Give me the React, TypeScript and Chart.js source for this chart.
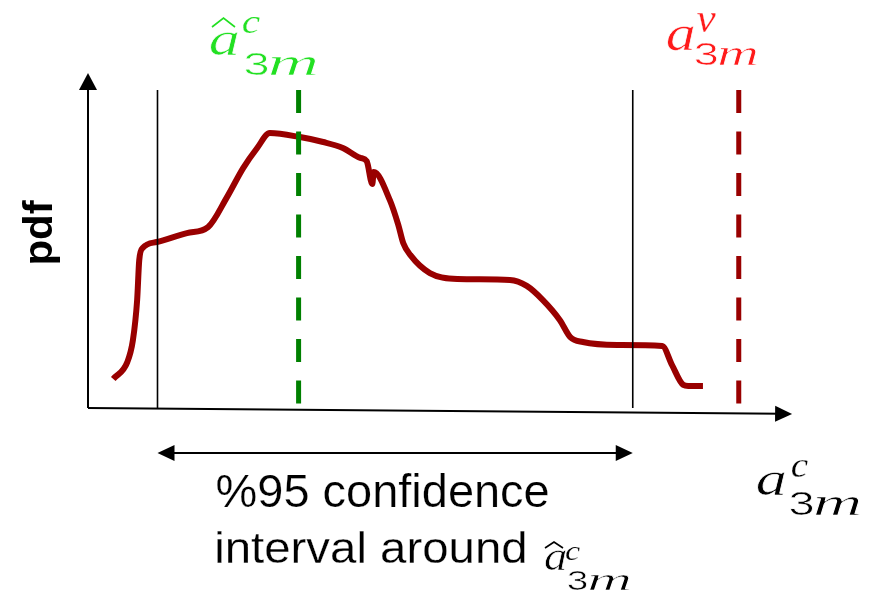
import React, { useEffect, useRef } from "react";
import { Chart, registerables } from "chart.js";

Chart.register(...registerables);

// ---- data (x in arbitrary parameter units, y = density, 0..1) ----
const pdfX = [0.36, 0.56, 0.64, 0.70, 0.73, 0.78, 0.98, 1.41, 1.71, 1.98, 2.21, 2.41, 2.59, 3.02, 3.35, 3.63, 3.88, 3.97, 4.05, 4.07, 4.30, 4.42, 4.49, 4.59, 4.87, 5.26, 6.01, 6.25, 6.48, 6.72, 6.87, 7.05, 7.54, 8.18, 8.32, 8.48, 8.55, 8.76];
const pdfY = [0.088, 0.139, 0.206, 0.327, 0.448, 0.485, 0.503, 0.530, 0.548, 0.639, 0.727, 0.788, 0.833, 0.821, 0.806, 0.788, 0.758, 0.748, 0.679, 0.715, 0.630, 0.555, 0.500, 0.464, 0.409, 0.391, 0.388, 0.370, 0.327, 0.267, 0.215, 0.200, 0.191, 0.188, 0.130, 0.070, 0.067, 0.067];

const ciLow = 0.99;
const ciHigh = 7.76;
const estimateX = 3.0;
const trueX = 9.27;
const markerTop = 0.964;
const markerBottom = 0.01;
const ciArrowY = -0.136;

const xMin = 0;
const xMax = 10;
const yMin = 0;
const yMax = 1;
const xAxisEnd = 10.03;
const xAxisDrop = -0.018;
const yAxisEnd = 1.015;

const captionLines = ["%95 confidence", "interval around"];
const yLabel = "pdf";

const CURVE = "#990000";
const GREEN_DASH = "#008000";
const GREEN_TEXT = "#22e022";
const RED_TEXT = "#ff1a1a";

type Box = [number, number, number, number];

function fitInk(ctx: CanvasRenderingContext2D, text: string, font: string, box: Box, color: string, thin = 0) {
  const [x0, y0, x1, y1] = box;
  ctx.save();
  ctx.font = font;
  const m = ctx.measureText(text);
  const inkW = m.actualBoundingBoxLeft + m.actualBoundingBoxRight;
  const inkH = m.actualBoundingBoxAscent + m.actualBoundingBoxDescent;
  const sx = (x1 - x0) / inkW;
  const sy = (y1 - y0) / inkH;
  ctx.translate(x0 + m.actualBoundingBoxLeft * sx, y0 + m.actualBoundingBoxAscent * sy);
  ctx.scale(sx, sy);
  ctx.fillStyle = color;
  ctx.textBaseline = "alphabetic";
  ctx.textAlign = "left";
  ctx.fillText(text, 0, 0);
  if (thin > 0) {
    ctx.strokeStyle = "#fff";
    ctx.lineWidth = thin / sy;
    ctx.lineJoin = "round";
    ctx.strokeText(text, 0, 0);
  }
  ctx.restore();
}

const ITAL = "italic 100px 'Liberation Serif', 'DejaVu Serif', serif";
const SANS = "100px 'Liberation Sans', 'DejaVu Sans', sans-serif";
const NARROW = "100px 'Liberation Sans Narrow', 'Liberation Sans', 'DejaVu Sans Condensed', sans-serif";
const BOLD = "bold 100px 'Liberation Sans', 'DejaVu Sans', sans-serif";
const TH = 0.6;
const TH_SMALL = 0.25;

function drawHat(ctx: CanvasRenderingContext2D, x0: number, x1: number, yTop: number, yBot: number, color: string) {
  ctx.save();
  ctx.strokeStyle = color;
  ctx.lineWidth = 1.6;
  ctx.lineJoin = "miter";
  ctx.beginPath();
  ctx.moveTo(x0, yBot);
  ctx.lineTo((x0 + x1) / 2, yTop);
  ctx.lineTo(x1, yBot);
  ctx.stroke();
  ctx.restore();
}

function drawArrowHead(ctx: CanvasRenderingContext2D, tx: number, ty: number, fx: number, fy: number, len: number, half: number) {
  const ang = Math.atan2(ty - fy, tx - fx);
  ctx.save();
  ctx.translate(tx, ty);
  ctx.rotate(ang);
  ctx.beginPath();
  ctx.moveTo(0, 0);
  ctx.lineTo(-len, -half);
  ctx.lineTo(-len, half);
  ctx.closePath();
  ctx.fill();
  ctx.restore();
}

function mathSym(ctx: CanvasRenderingContext2D, color: string, sup: string, a: Box, s: Box, three: Box, mm: Box) {
  fitInk(ctx, "a", ITAL, a, color, TH);
  fitInk(ctx, sup, ITAL, s, color, TH_SMALL);
  fitInk(ctx, "3", SANS, three, color, TH);
  fitInk(ctx, "m", ITAL, mm, color, TH);
}

const decorPlugin = {
  id: "decor",
  afterDatasetsDraw(chart: any) {
    const ctx: CanvasRenderingContext2D = chart.ctx;
    const xs = chart.scales.x;
    const ys = chart.scales.y;
    const px = (v: number) => xs.getPixelForValue(v);
    const py = (v: number) => ys.getPixelForValue(v);

    ctx.save();
    ctx.fillStyle = "#000";
    ctx.strokeStyle = "#000";
    ctx.lineWidth = 2;

    // y axis
    const ox = px(0), oy = py(0);
    const yTipY = py(yAxisEnd);
    ctx.beginPath();
    ctx.moveTo(ox, oy);
    ctx.lineTo(ox, yTipY + 10);
    ctx.stroke();
    drawArrowHead(ctx, ox, yTipY, ox, oy, 17, 9);

    // x axis (slightly sloped)
    const xTipX = px(xAxisEnd), xTipY = py(xAxisDrop);
    ctx.beginPath();
    ctx.moveTo(ox, oy);
    ctx.lineTo(xTipX - 10, xTipY - (xTipY - oy) * 10 / (xTipX - ox));
    ctx.stroke();
    drawArrowHead(ctx, xTipX, xTipY, ox, oy, 17, 8);

    // CI double arrow
    const ay = py(ciArrowY);
    const a0 = px(ciLow), a1 = px(ciHigh);
    ctx.beginPath();
    ctx.moveTo(a0 + 10, ay);
    ctx.lineTo(a1 - 10, ay);
    ctx.stroke();
    drawArrowHead(ctx, a0, ay, a1, ay, 17, 8);
    drawArrowHead(ctx, a1, ay, a0, ay, 17, 8);
    ctx.restore();

    // caption
    fitInk(ctx, captionLines[0], NARROW, [217, 473, 548, 507], "#000", 0.25);
    fitInk(ctx, captionLines[1], NARROW, [217, 530, 525, 563], "#000", 0.25);

    // hat a^c_3m in caption
    drawHat(ctx, 545, 563, 542, 548, "#000");
    mathSym(ctx, "#000", "c", [545, 550, 566, 570], [566, 547, 580, 560], [568, 570, 587, 590], [589, 575, 630, 590]);

    // x-axis symbol a^c_3m
    mathSym(ctx, "#000", "c", [757, 472, 785, 495], [792, 460, 808, 477], [790, 492, 813, 515], [815, 497, 860, 515]);

    // green estimate label
    drawHat(ctx, 212, 235, 18, 27, GREEN_TEXT);
    mathSym(ctx, GREEN_TEXT, "c", [210, 32, 238, 55], [243, 17, 260, 33], [245, 53, 268, 75], [270, 57, 317, 75]);

    // red true-value label
    mathSym(ctx, RED_TEXT, "v", [667, 26, 694, 50], [697, 13, 716, 32], [695, 43, 717, 65], [719, 48, 757, 65]);

    // pdf label (rotated)
    ctx.save();
    ctx.rotate(-Math.PI / 2);
    fitInk(ctx, yLabel, BOLD, [-263, 22, -200, 60], "#000");
    ctx.restore();
  },
};

export default function App() {
  const ref = useRef<HTMLCanvasElement | null>(null);
  useEffect(() => {
    document.body.style.margin = "0";
    const canvas = ref.current!;
    const vline = (x: number, color: string, width: number, dash: number[]) => ({
      data: [
        { x, y: markerTop },
        { x, y: x === ciLow || x === ciHigh ? 0 : markerBottom },
      ],
      borderColor: color,
      borderWidth: width,
      borderDash: dash,
      pointRadius: 0,
      tension: 0,
      fill: false,
      clip: false,
      order: 1,
    });
    const chart = new Chart(canvas, {
      type: "line",
      data: {
        datasets: [
          vline(ciLow, "#000", 1.6, []),
          vline(ciHigh, "#000", 1.6, []),
          vline(estimateX, GREEN_DASH, 5, [23, 18.5]),
          vline(trueX, CURVE, 5, [23, 18.5]),
          {
            data: pdfX.map((x, i) => ({ x, y: pdfY[i] })),
            borderColor: CURVE,
            borderWidth: 6,
            pointRadius: 0,
            cubicInterpolationMode: "monotone",
            fill: false,
            clip: false,
            order: 2,
            borderCapStyle: "butt",
            borderJoinStyle: "round",
          } as any,
        ],
      },
      options: {
        animation: false,
        responsive: false,
        events: [],
        layout: { padding: { left: 88, right: 82, top: 78, bottom: 187 } },
        plugins: { legend: { display: false }, tooltip: { enabled: false }, title: { display: false } },
        scales: {
          x: { type: "linear", min: xMin, max: xMax, display: false },
          y: { type: "linear", min: yMin, max: yMax, display: false },
        },
      },
      plugins: [decorPlugin],
    });
    return () => chart.destroy();
  }, []);
  return (
    <div style={{ width: 872, height: 595, background: "#fff" }}>
      <canvas ref={ref} width={872} height={595} style={{ display: "block" }} />
    </div>
  );
}
